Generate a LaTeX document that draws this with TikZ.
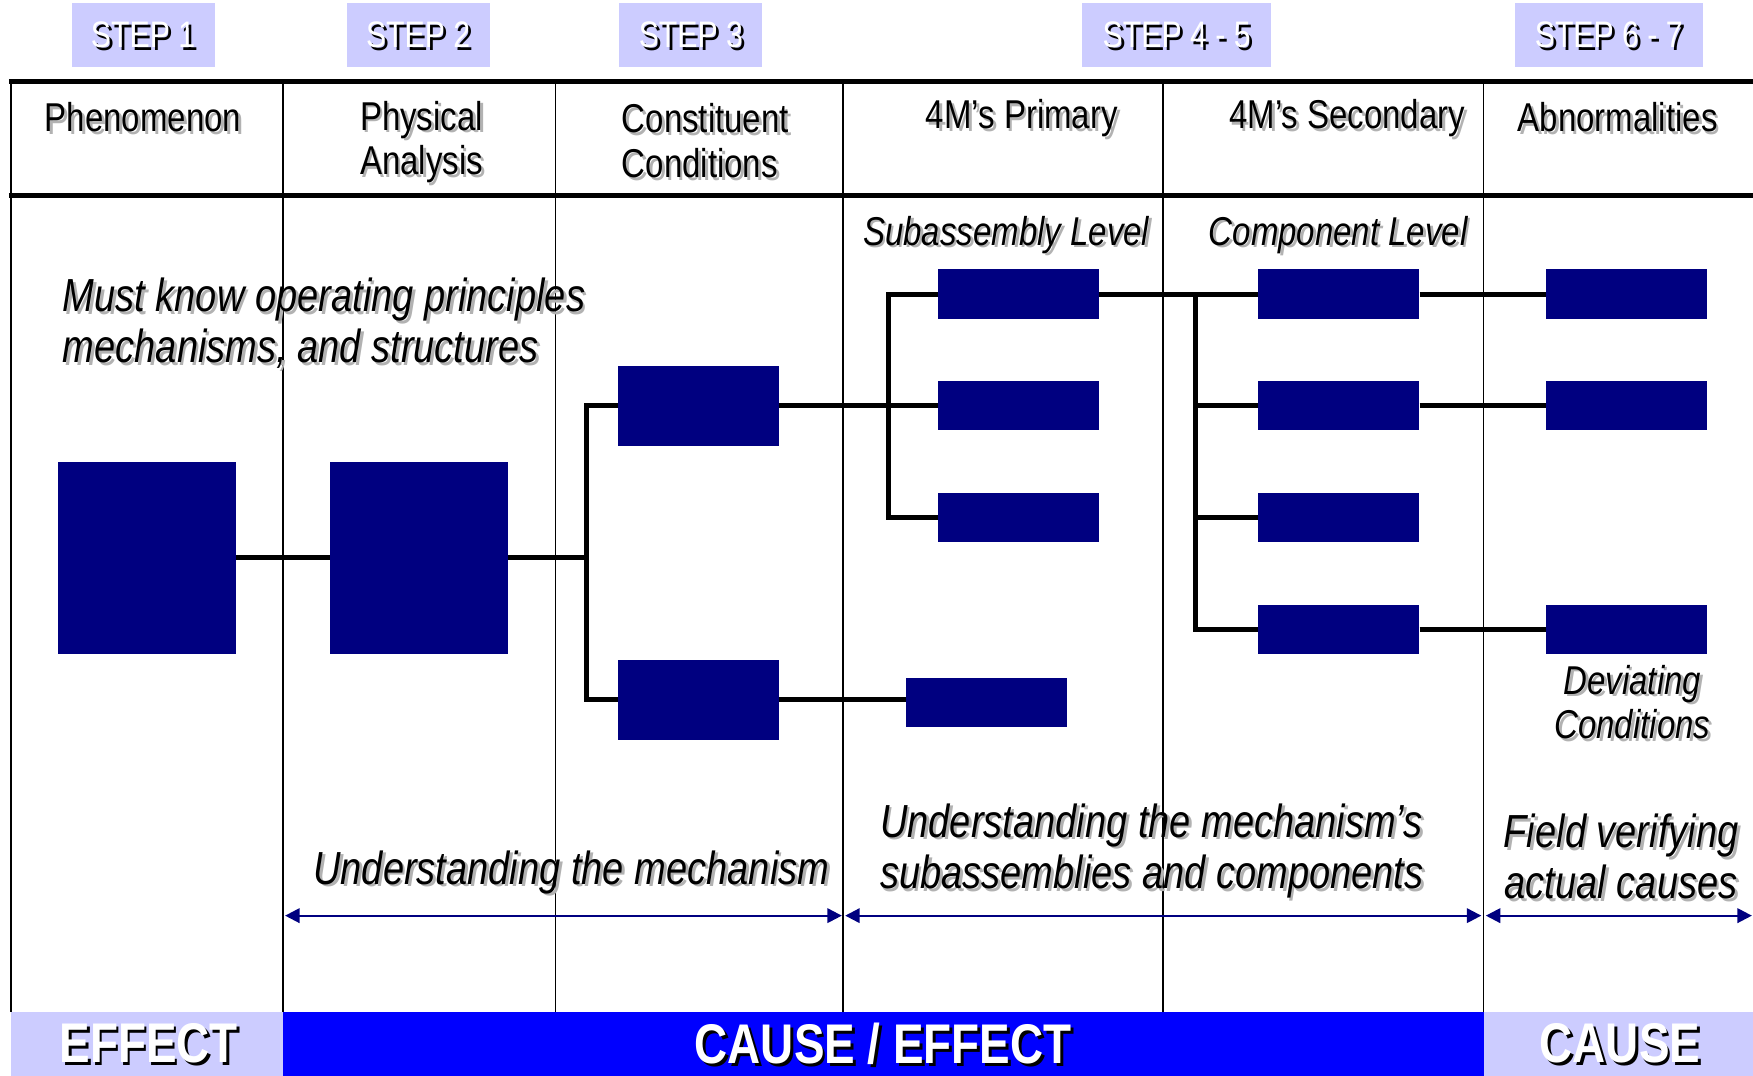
\documentclass[tikz,border=0pt]{standalone}
\usepackage{fontspec}
\setmainfont{Liberation Sans}[FakeStretch=0.82]
\usetikzlibrary{arrows.meta,calc}

\definecolor{boxnavy}{RGB}{0,0,128}
\definecolor{steplav}{RGB}{204,204,255}
\definecolor{barblue}{RGB}{0,0,255}

\tikzset{
	blk/.style = {fill = boxnavy, inner sep = 0pt, minimum width = 144pt, minimum height = 44pt},
	bigblk/.style = {blk, minimum width = 159pt, minimum height = 172pt},
	midblk/.style = {blk, minimum height = 72pt},
	conn/.style = {line width = 4.5pt},
	rule/.style = {line width = 5pt},
	colline/.style = {line width = 1.5pt},
	span/.style = {{Triangle[length = 13pt, width = 13pt]}-{Triangle[length = 13pt, width = 13pt]}, boxnavy, line width = 2pt},
	stepbox/.style = {fill = steplav, minimum width = 128pt, minimum height = 57pt, inner sep = 0pt},
	steptxt/.style = {font = \fontsize{33}{38}\selectfont, text = white, inner sep = 0pt},
	head/.style = {font = \fontsize{36}{40}\selectfont, align = center, inner sep = 0pt},
	level/.style = {font = \itshape\fontsize{36}{40}\selectfont, align = center, inner sep = 0pt},
	note/.style = {font = \itshape\fontsize{41.5}{46}\selectfont, inner sep = 0pt},
	bandtxt/.style = {font = \bfseries\fontsize{50}{56}\selectfont, text = white, inner sep = 0pt, text depth = 0pt}
}

%	text with a drop shadow: [shadow colour]{style}{name}{position}{text}
\newcommand\shlabel[5][black!30]{%
	\node[#2, text = #1] at ($(#4) + (2.5, 2.5)$) {#5};
	\node[#2] (#3) at (#4) {#5};}

\begin{document}
\begin{tikzpicture}[x = 1pt, y = -1pt]
	\useasboundingbox (0, 0) rectangle (1568, 962);
	
	%	steps
	\node[stepbox] (st1) at (128, 31) {};
	\node[stepbox] (st2) at (374, 31) {};
	\node[stepbox] (st3) at (618, 31) {};
	\node[stepbox, minimum width = 169pt] (st4) at (1052.5, 31) {};
	\node[stepbox, minimum width = 168pt] (st6) at (1439, 31) {};
	\shlabel[black]{steptxt}{st1t}{st1}{STEP 1}
	\shlabel[black]{steptxt}{st2t}{st2}{STEP 2}
	\shlabel[black]{steptxt}{st3t}{st3}{STEP 3}
	\shlabel[black]{steptxt}{st4t}{st4}{STEP 4 - 5}
	\shlabel[black]{steptxt}{st6t}{st6}{STEP 6 - 7}
	
	%	table
	\draw[rule] (8, 73) -- (1568, 73);
	\draw[rule] (8, 175) -- (1568, 175);
	\foreach \x in {10, 253, 497, 754, 1040, 1327}
		\draw[colline] (\x, 73) -- (\x, 905);
	
	%	column heads
	\shlabel{head}{h1}{128, 105}{Phenomenon}
	\shlabel{head}{h2}{377, 127}{Physical\\Analysis}
	\shlabel{head, align = left, anchor = west}{h3}{556, 126}{Constituent\\Conditions}
	\shlabel{head}{h4}{914, 106}{4M’s Primary}
	\shlabel{head}{h5}{1205, 106}{4M’s Secondary}
	\shlabel{head}{h6}{1447, 105}{Abnormalities}
	\shlabel{level}{lvA}{900, 210}{Subassembly Level}
	\shlabel{level}{lvB}{1197, 210}{Component Level}
	
	%	blocks
	\node[bigblk] (phen) at (131.5, 499) {};
	\node[bigblk] (phys) at (374.5, 499) {};
	\node[midblk] (ctop) at (625, 363) {};
	\node[midblk] (cbot) at (625, 626) {};
	\foreach \i/\y in {1/263, 2/363, 3/463}
		\node[blk] (p\i) at (911, \y) {};
	\node[blk] (plone) at (882.5, 628) {};
	\foreach \i/\y in {1/263, 2/363, 3/463, 4/563}
		\node[blk] (s\i) at (1197.5, \y) {};
	\foreach \i/\y in {1/263, 2/363, 3/563}
		\node[blk] (a\i) at (1455, \y) {};
	
	%	connectors
	\coordinate (jA) at (525, 499);
	\coordinate (jB) at (795, 363);
	\coordinate (jC) at (1069, 263);
	\draw[conn] (phen) -- (phys);
	\draw[conn] (phys) -- (jA);
	\draw[conn] (ctop.west) -| (jA) |- (cbot.west);
	\draw[conn] (ctop) -- (p2);
	\draw[conn] (p1.west) -| (jB) |- (p3.west);
	\draw[conn] (cbot.east) -- (cbot.east -| plone.west);
	\draw[conn] (p1) -- (s1);
	\draw[conn] (jC) |- (s4.west);
	\foreach \i in {2, 3}
		\draw[conn] (s\i.west) -- (s\i.west -| jC);
	\draw[conn] (s1) -- (a1);
	\draw[conn] (s2) -- (a2);
	\draw[conn] (s4) -- (a3);
	
	%	notes
	\shlabel{note, align = left, anchor = west}{nA}{56, 289}{Must know operating principles\\mechanisms, and structures}
	\shlabel{level}{nB}{1460, 628}{Deviating\\Conditions}
	\shlabel{note}{nC}{511, 780}{Understanding the mechanism}
	\shlabel{note, align = left, anchor = west}{nD}{787, 761}{Understanding the mechanism’s\\subassemblies and components}
	\shlabel{note, align = center}{nE}{1450, 766}{Field verifying\\actual causes}
	
	%	spans
	\coordinate (m1) at (255, 819);
	\coordinate (m2) at (753, 819);
	\coordinate (m3) at (756, 819);
	\coordinate (m4) at (1325, 819);
	\coordinate (m5) at (1329, 819);
	\coordinate (m6) at (1567, 819);
	\draw[span] (m1) -- (m2);
	\draw[span] (m3) -- (m4);
	\draw[span] (m5) -- (m6);
	
	%	band
	\fill[steplav] (10, 905) rectangle (253, 962);
	\fill[barblue] (253, 905) rectangle (1327, 962);
	\fill[steplav] (1327, 905) rectangle (1568, 962);
	\shlabel[black]{bandtxt}{bA}{133, 933}{EFFECT}
	\shlabel[black]{bandtxt}{bB}{790, 933}{CAUSE / EFFECT}
	\shlabel[black]{bandtxt}{bC}{1449, 933}{CAUSE}
\end{tikzpicture}
\end{document}
